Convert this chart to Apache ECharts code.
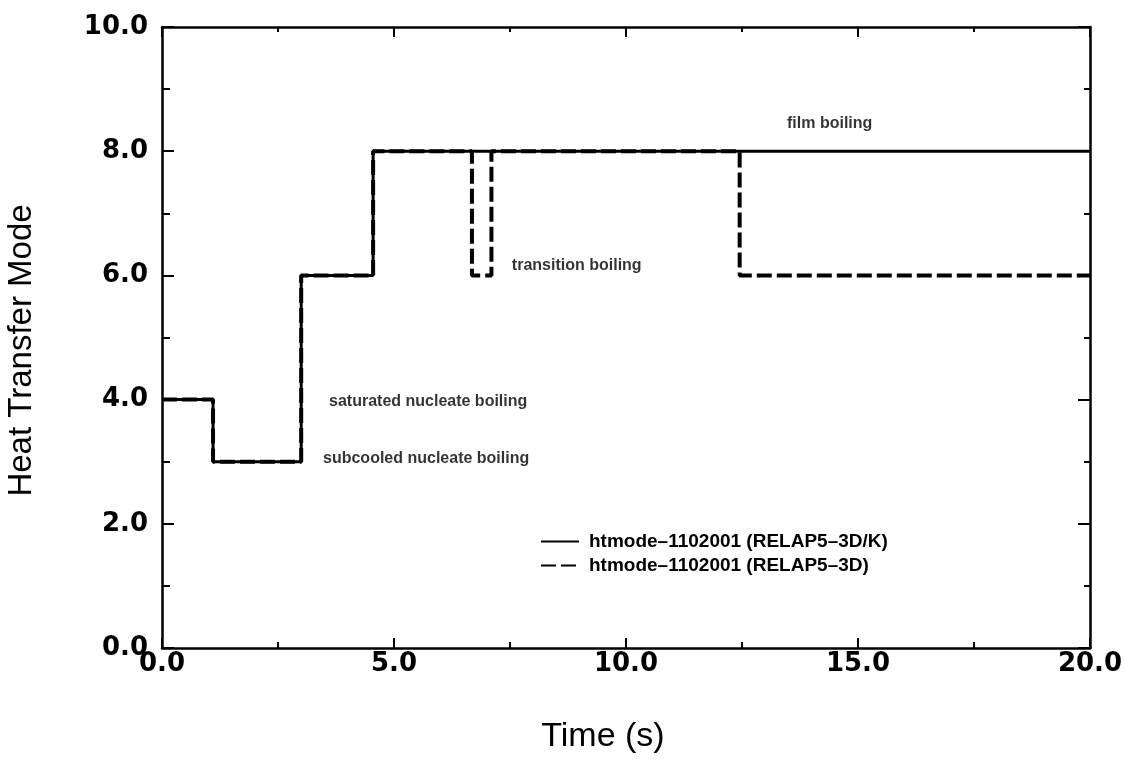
<!DOCTYPE html>
<html>
<head>
<meta charset="utf-8">
<title>Heat Transfer Mode</title>
<script src="https://cdn.jsdelivr.net/npm/echarts@6/dist/echarts.min.js"></script>
<style>
  html, body { margin: 0; padding: 0; background: #ffffff; }
  #chart { width: 1126px; height: 760px; }
</style>
</head>
<body>
<div id="chart"></div>
<script>
// Heat transfer mode change points (step plot, value holds until the next time)
const timeK = [0.0, 1.1, 3.0, 4.55, 20.0];
const modeK = [4, 3, 6, 8, 8];

const time3D = [0.0, 1.1, 3.0, 4.55, 6.68, 7.1, 12.45, 20.0];
const mode3D = [4, 3, 6, 8, 6, 8, 6, 6];

const seriesNames = ['htmode\u20131102001 (RELAP5\u20133D/K)', 'htmode\u20131102001 (RELAP5\u20133D)'];

// Regime labels: text, time, mode where each is written
const regimeText = ['film boiling', 'transition boiling', 'saturated nucleate boiling', 'subcooled nucleate boiling'];
const regimeTime = [13.47, 7.54, 3.6, 3.47];
const regimeMode = [8.45, 6.16, 3.97, 3.05];

const FONT = '"Liberation Sans", Arial, Helvetica, sans-serif';
const TICK_FONT = '"DejaVu Sans", "Liberation Sans", sans-serif';

const pairs = (xs, ys) => xs.map((x, i) => [x, ys[i]]);

const chart = echarts.init(document.getElementById('chart'), null, { renderer: 'canvas' });

const tickLabel = {
  fontFamily: TICK_FONT, fontSize: 26, fontWeight: 'bold', color: '#000'
};

const option = {
  backgroundColor: '#ffffff',
  animation: false,
  grid: { left: 162, right: 36, top: 27, bottom: 112, containLabel: false, outerBoundsMode: 'none' },
  legend: {
    orient: 'vertical',
    left: 535,
    top: 527,
    itemWidth: 38,
    itemHeight: 14,
    itemGap: 5,
    selectedMode: false,
    data: seriesNames,
    itemStyle: { opacity: 0 },
    textStyle: {
      fontFamily: FONT, fontSize: 19, fontWeight: 'bold', color: '#000',
      lineHeight: 18, padding: [0, 0, 0, 5]
    }
  },
  xAxis: [
    {
      type: 'value', position: 'bottom', min: 0, max: 20, interval: 5,
      name: 'Time (s)', nameLocation: 'middle', nameGap: 72,
      nameTextStyle: { fontFamily: FONT, fontSize: 34, color: '#000', padding: [0, 46, 0, 0] },
      axisLine: { show: true, onZero: false, lineStyle: { color: '#000', width: 2.5 } },
      axisTick: { show: true, inside: true, length: 10, lineStyle: { color: '#000', width: 2 } },
      minorTick: { show: true, splitNumber: 2, length: 6, lineStyle: { color: '#000', width: 2 } },
      axisLabel: Object.assign({ margin: 3, formatter: v => v.toFixed(1) }, tickLabel),
      splitLine: { show: false }
    },
    {
      type: 'value', position: 'top', min: 0, max: 20, interval: 5,
      axisLine: { show: true, onZero: false, lineStyle: { color: '#000', width: 2.5 } },
      axisTick: { show: true, inside: true, length: 10, lineStyle: { color: '#000', width: 2 } },
      minorTick: { show: true, splitNumber: 2, length: 5, lineStyle: { color: '#000', width: 2 } },
      axisLabel: { show: false },
      splitLine: { show: false }
    }
  ],
  yAxis: [
    {
      type: 'value', position: 'left', min: 0, max: 10, interval: 2,
      name: 'Heat Transfer Mode', nameLocation: 'middle', nameGap: 124, nameRotate: 90,
      nameTextStyle: { fontFamily: FONT, fontSize: 33, color: '#000', padding: [0, 26, 0, 0] },
      axisLine: { show: true, onZero: false, lineStyle: { color: '#000', width: 2.5 } },
      axisTick: { show: true, inside: true, length: 12, lineStyle: { color: '#000', width: 2 } },
      minorTick: { show: true, splitNumber: 2, length: 8, lineStyle: { color: '#000', width: 2 } },
      axisLabel: Object.assign({ margin: 14, formatter: v => v.toFixed(1) }, tickLabel),
      splitLine: { show: false }
    },
    {
      type: 'value', position: 'right', min: 0, max: 10, interval: 2,
      axisLine: { show: true, onZero: false, lineStyle: { color: '#000', width: 2.5 } },
      axisTick: { show: true, inside: true, length: 12, lineStyle: { color: '#000', width: 2 } },
      minorTick: { show: true, splitNumber: 2, length: 6, lineStyle: { color: '#000', width: 2 } },
      axisLabel: { show: false },
      splitLine: { show: false }
    }
  ],
  series: [
    {
      name: seriesNames[0],
      type: 'line',
      step: 'end',
      symbol: 'none',
      data: pairs(timeK, modeK),
      itemStyle: { color: '#000' },
      lineStyle: { color: '#000', width: 3, type: 'solid' },
      z: 2
    },
    {
      name: seriesNames[1],
      type: 'line',
      step: 'end',
      symbol: 'none',
      data: pairs(time3D, mode3D),
      itemStyle: { color: '#000' },
      lineStyle: { color: '#000', width: 4, type: [15, 5] },
      z: 3
    },
    {
      // regime annotations placed in data coordinates
      type: 'scatter',
      symbolSize: 0,
      silent: true,
      legendHoverLink: false,
      data: regimeText.map((t, i) => ({ value: [regimeTime[i], regimeMode[i]], name: t })),
      label: {
        show: true,
        position: 'right',
        distance: 0,
        formatter: p => p.name,
        fontFamily: FONT, fontSize: 16, fontWeight: 'bold', color: '#000'
      },
      z: 4
    }
  ]
};

chart.setOption(option);
</script>
</body>
</html>
